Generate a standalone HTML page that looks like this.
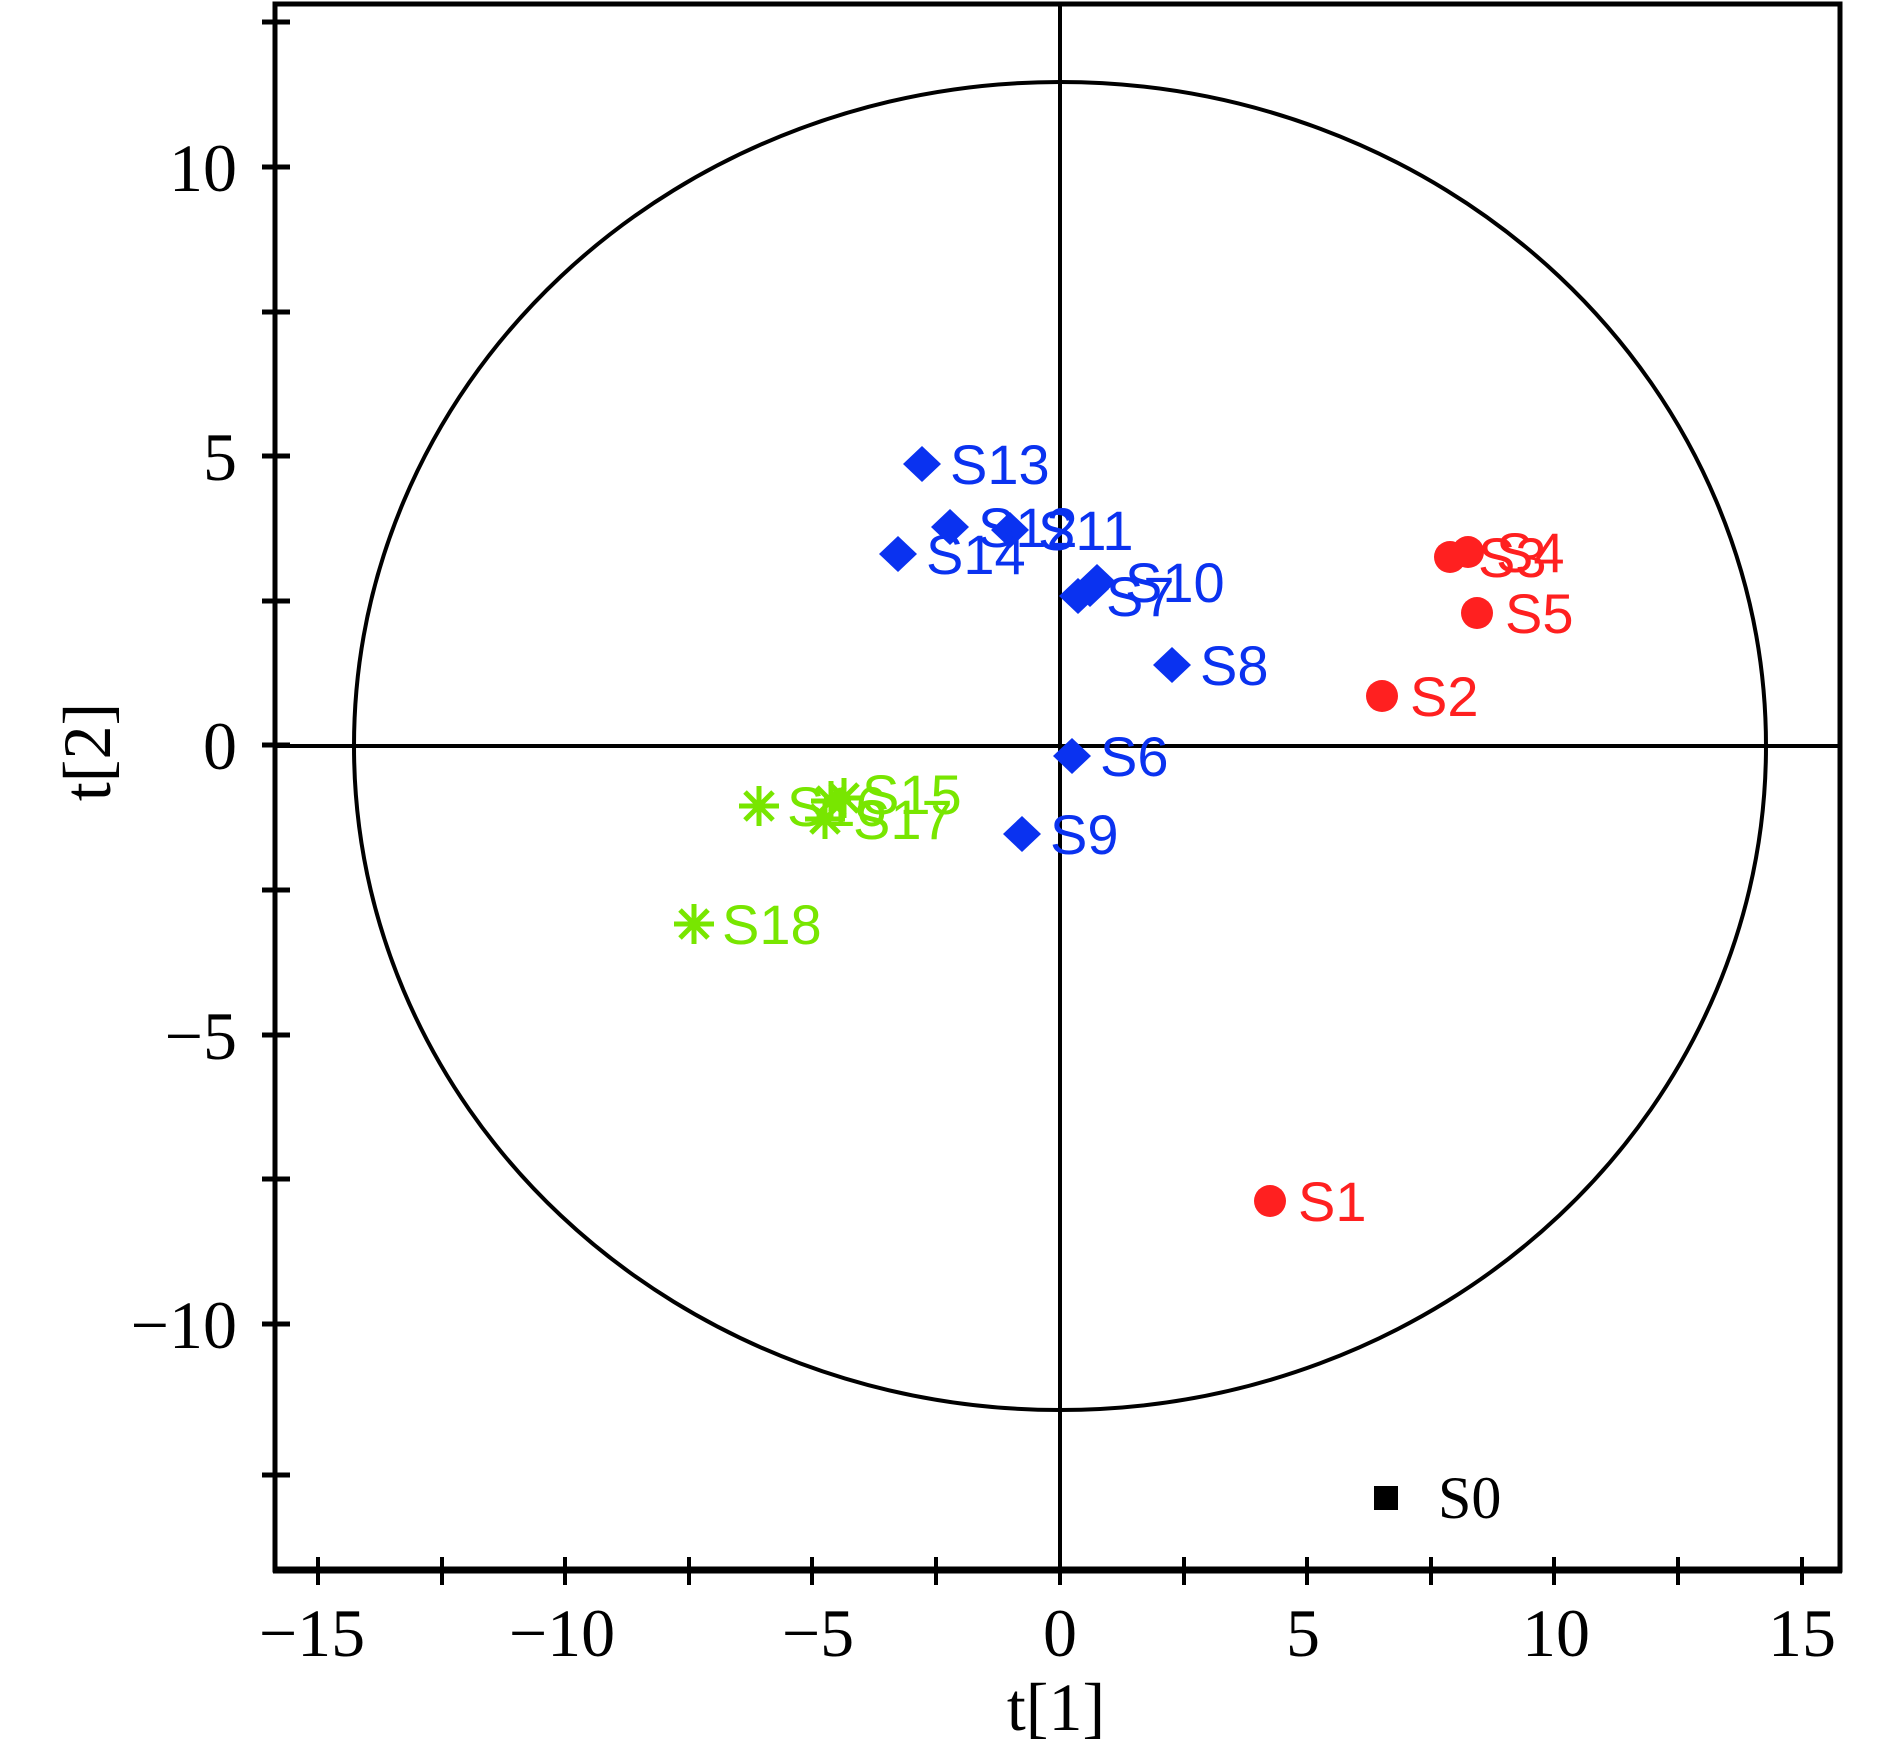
<!DOCTYPE html>
<html><head><meta charset="utf-8"><style>
html,body{margin:0;padding:0;background:#fff;}
svg{display:block;}
.t{font-family:"Liberation Serif",serif;font-size:68px;fill:#000;}
.b{font-family:"Liberation Sans",sans-serif;font-size:56px;fill:#0a32f0;}
.r{font-family:"Liberation Sans",sans-serif;font-size:56px;fill:#ff2020;}
.g{font-family:"Liberation Sans",sans-serif;font-size:56px;fill:#78e600;}
</style></head><body>
<svg width="1890" height="1748" viewBox="0 0 1890 1748" xmlns="http://www.w3.org/2000/svg">
<rect width="1890" height="1748" fill="#fff"/>
<!-- circle -->
<ellipse cx="1060" cy="746" rx="706" ry="664" fill="none" stroke="#000" stroke-width="4"/>
<!-- zero lines -->
<line x1="275" y1="746" x2="1840" y2="746" stroke="#000" stroke-width="4"/>
<line x1="1060" y1="4" x2="1060" y2="1570" stroke="#000" stroke-width="4"/>
<!-- frame -->
<rect x="275" y="4" width="1565" height="1566" fill="none" stroke="#000" stroke-width="5"/>
<line x1="273" y1="1570" x2="1842" y2="1570" stroke="#000" stroke-width="7"/>
<!-- y ticks -->
<g stroke="#000" stroke-width="5">
<line x1="262" y1="22" x2="290" y2="22"/>
<line x1="262" y1="167" x2="290" y2="167"/>
<line x1="262" y1="312" x2="290" y2="312"/>
<line x1="262" y1="456" x2="290" y2="456"/>
<line x1="262" y1="601" x2="290" y2="601"/>
<line x1="262" y1="745" x2="290" y2="745"/>
<line x1="262" y1="890" x2="290" y2="890"/>
<line x1="262" y1="1035" x2="290" y2="1035"/>
<line x1="262" y1="1179" x2="290" y2="1179"/>
<line x1="262" y1="1324" x2="290" y2="1324"/>
<line x1="262" y1="1475" x2="290" y2="1475"/>
</g>
<!-- x ticks -->
<g stroke="#000" stroke-width="4">
<line x1="1060" y1="1557" x2="1060" y2="1585"/>
<line x1="936" y1="1557" x2="936" y2="1585"/>
<line x1="812" y1="1557" x2="812" y2="1585"/>
<line x1="689" y1="1557" x2="689" y2="1585"/>
<line x1="565" y1="1557" x2="565" y2="1585"/>
<line x1="442" y1="1557" x2="442" y2="1585"/>
<line x1="318" y1="1557" x2="318" y2="1585"/>
<line x1="1184" y1="1557" x2="1184" y2="1585"/>
<line x1="1307" y1="1557" x2="1307" y2="1585"/>
<line x1="1431" y1="1557" x2="1431" y2="1585"/>
<line x1="1554" y1="1557" x2="1554" y2="1585"/>
<line x1="1678" y1="1557" x2="1678" y2="1585"/>
<line x1="1802" y1="1557" x2="1802" y2="1585"/>
</g>
<!-- y labels -->
<g class="t" text-anchor="end">
<text x="237" y="191">10</text>
<text x="237" y="480">5</text>
<text x="237" y="769">0</text>
<text x="237" y="1059">−5</text>
<text x="237" y="1348">−10</text>
</g>
<g class="t" text-anchor="middle">
<text x="312" y="1656">−15</text>
<text x="562" y="1656">−10</text>
<text x="818" y="1656">−5</text>
<text x="1060" y="1656">0</text>
<text x="1303" y="1656">5</text>
<text x="1556" y="1656">10</text>
<text x="1802" y="1656">15</text>
<text x="1056" y="1730">t[1]</text>
<text transform="translate(110,752) rotate(-90)">t[2]</text>
</g>
<!-- S0 legend -->
<rect x="1374" y="1486" width="24" height="24" fill="#000"/>
<text class="t" x="1438" y="1518" style="font-size:60px">S0</text>
<!-- blue diamonds -->
<g fill="#0a32f0">
<path d="M922,446 l19,18 -19,18 -19,-18z"/>
<path d="M950,509 l19,18 -19,18 -19,-18z"/>
<path d="M1010,512 l19,18 -19,18 -19,-18z"/>
<path d="M898,536 l19,18 -19,18 -19,-18z"/>
<path d="M1078,578 l19,18 -19,18 -19,-18z"/>
<path d="M1097,564 l19,18 -19,18 -19,-18z"/>
<path d="M1090,571 l19,18 -19,18 -19,-18z"/>
<path d="M1172,647 l19,18 -19,18 -19,-18z"/>
<path d="M1072,738 l19,18 -19,18 -19,-18z"/>
<path d="M1022,816 l19,18 -19,18 -19,-18z"/>
</g>
<g class="b">
<text x="950" y="484">S13</text>
<text x="978" y="547">S12</text>
<text x="1038" y="550">S11</text>
<text x="926" y="574">S14</text>
<text x="1106" y="616">S7</text>
<text x="1125" y="602">S10</text>
<text x="1200" y="685">S8</text>
<text x="1100" y="776">S6</text>
<text x="1050" y="854">S9</text>
</g>
<!-- red circles -->
<g fill="#ff2020">
<circle cx="1450" cy="557" r="16"/>
<circle cx="1468" cy="552" r="16"/>
<circle cx="1477" cy="613" r="16"/>
<circle cx="1382" cy="696" r="16"/>
<circle cx="1270" cy="1201" r="16"/>
</g>
<g class="r">
<text x="1478" y="577">S3</text>
<text x="1496" y="572">S4</text>
<text x="1505" y="633">S5</text>
<text x="1410" y="716">S2</text>
<text x="1298" y="1221">S1</text>
</g>
<!-- green asterisks -->
<g stroke="#78e600" stroke-width="5" fill="none">
<path d="M759,786 v40 M739,806 h40 M745,792 l28,28 M773,792 l-28,28"/>
<path d="M831,781 v40 M811,801 h40 M817,787 l28,28 M845,787 l-28,28"/>
<path d="M844,778 v40 M824,798 h40 M830,784 l28,28 M858,784 l-28,28"/>
<path d="M825,799 v40 M805,819 h40 M811,805 l28,28 M839,805 l-28,28"/>
<path d="M694,904 v40 M674,924 h40 M680,910 l28,28 M708,910 l-28,28"/>
</g>
<g class="g">
<text x="787" y="826">S16</text>
<text x="862" y="814">S15</text>
<text x="853" y="839">S17</text>
<text x="722" y="944">S18</text>
</g>
</svg>
</body></html>
